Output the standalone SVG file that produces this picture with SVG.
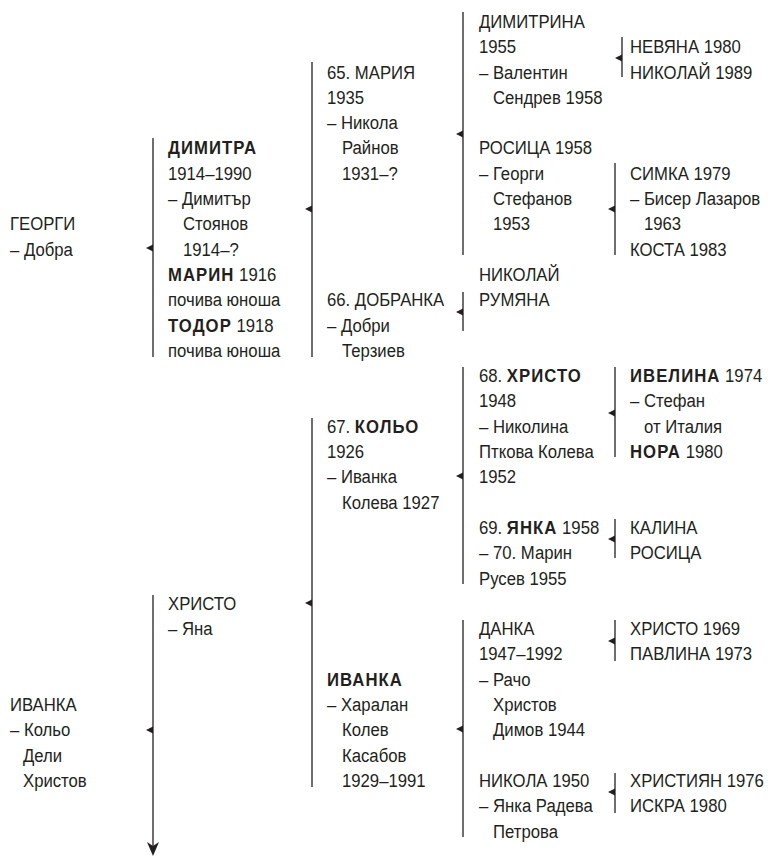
<svg xmlns="http://www.w3.org/2000/svg" xmlns:xlink="http://www.w3.org/1999/xlink" width="768" height="856" viewBox="0 0 768 856">
<style>
text{font-family:"Liberation Sans",Arial,sans-serif;font-size:19px;fill:#231f20;transform-box:fill-box;transform-origin:0 0;transform:scaleX(0.88)}
.b{font-weight:bold;letter-spacing:1.2px}
.ln{stroke:#231f20;stroke-width:1.3;fill:none}
.ah{fill:#231f20}
</style>
<defs>
<path id="ah" class="ah" d="M0,-3.6 L-7,0 L0,3.6Z"/>
</defs>
<rect width="768" height="856" fill="#fff"/>
<g id="connectors">
<line class="ln" x1="153" y1="138" x2="153" y2="357"/><use href="#ah" x="153" y="248"/>
<line class="ln" x1="153" y1="595" x2="153" y2="848"/><use href="#ah" x="153" y="730"/>
<path class="ah" d="M153,856 L147,842 L153,846 L159,842Z"/>
<line class="ln" x1="312" y1="62" x2="312" y2="357"/><use href="#ah" x="312" y="209"/>
<line class="ln" x1="312" y1="418" x2="312" y2="787"/><use href="#ah" x="312" y="603"/>
<line class="ln" x1="463" y1="12" x2="463" y2="255"/><use href="#ah" x="463" y="134"/>
<line class="ln" x1="463" y1="292" x2="463" y2="331"/><use href="#ah" x="463" y="312"/>
<line class="ln" x1="463" y1="367" x2="463" y2="584"/><use href="#ah" x="463" y="476"/>
<line class="ln" x1="463" y1="620" x2="463" y2="837"/><use href="#ah" x="463" y="729"/>
<line class="ln" x1="622" y1="37" x2="622" y2="77"/><use href="#ah" x="622" y="58"/>
<line class="ln" x1="615" y1="163" x2="615" y2="255"/><use href="#ah" x="615" y="209"/>
<line class="ln" x1="615" y1="367" x2="615" y2="457"/><use href="#ah" x="615" y="413"/>
<line class="ln" x1="615" y1="519" x2="615" y2="558"/><use href="#ah" x="615" y="539"/>
<line class="ln" x1="615" y1="620" x2="615" y2="661"/><use href="#ah" x="615" y="641"/>
<line class="ln" x1="615" y1="773" x2="615" y2="813"/><use href="#ah" x="615" y="792"/>
</g>
<g id="georgi"><text x="10" y="230.4">ГЕОРГИ</text><text x="10" y="255.7">– Добра</text></g>
<g id="ivanka0"><text x="10" y="711.1">ИВАНКА</text><text x="10" y="736.4">– Кольо</text><text x="23" y="761.7">Дели</text><text x="23" y="787">Христов</text></g>
<g id="dimitra"><text x="168" y="154.5" class="b">ДИМИТРА</text><text x="168" y="179.8">1914–1990</text><text x="168" y="205.1">– Димитър</text><text x="183" y="230.4">Стоянов</text><text x="183" y="255.7">1914–?</text></g>
<g id="marin"><text x="168" y="281"><tspan class="b">МАРИН</tspan> 1916</text><text x="168" y="306.3">почива юноша</text></g>
<g id="todor"><text x="168" y="331.6"><tspan class="b">ТОДОР</tspan> 1918</text><text x="168" y="356.9">почива юноша</text></g>
<g id="hristo1"><text x="168" y="609.9">ХРИСТО</text><text x="168" y="635.2">– Яна</text></g>
<g id="maria"><text x="327" y="78.6">65. МАРИЯ</text><text x="327" y="103.9">1935</text><text x="327" y="129.2">– Никола</text><text x="342" y="154.5">Райнов</text><text x="342" y="179.8">1931–?</text></g>
<g id="dobranka"><text x="327" y="306.3">66. ДОБРАНКА</text><text x="327" y="331.6">– Добри</text><text x="342" y="356.9">Терзиев</text></g>
<g id="kolyo"><text x="327" y="432.8">67. <tspan class="b">КОЛЬО</tspan></text><text x="327" y="458.1">1926</text><text x="327" y="483.4">– Иванка</text><text x="342" y="508.7">Колева 1927</text></g>
<g id="ivanka2"><text x="327" y="685.8" class="b">ИВАНКА</text><text x="327" y="711.1">– Харалан</text><text x="342" y="736.4">Колев</text><text x="342" y="761.7">Касабов</text><text x="342" y="787">1929–1991</text></g>
<g id="dimitrina"><text x="479" y="28">ДИМИТРИНА</text><text x="479" y="53.3">1955</text><text x="479" y="78.6">– Валентин</text><text x="493" y="103.9">Сендрев 1958</text></g>
<g id="rositsa"><text x="479" y="154.5">РОСИЦА 1958</text><text x="479" y="179.8">– Георги</text><text x="493" y="205.1">Стефанов</text><text x="493" y="230.4">1953</text></g>
<g id="nikolay"><text x="479" y="281">НИКОЛАЙ</text></g>
<g id="rumyana"><text x="479" y="306.3">РУМЯНА</text></g>
<g id="hristo68"><text x="479" y="382.2">68. <tspan class="b">ХРИСТО</tspan></text><text x="479" y="407.5">1948</text><text x="479" y="432.8">– Николина</text><text x="479" y="458.1">Пткова Колева</text><text x="479" y="483.4">1952</text></g>
<g id="yanka"><text x="479" y="534">69. <tspan class="b">ЯНКА</tspan> 1958</text><text x="479" y="559.3">– 70. Марин</text><text x="479" y="584.6">Русев 1955</text></g>
<g id="danka"><text x="479" y="635.2">ДАНКА</text><text x="479" y="660.5">1947–1992</text><text x="479" y="685.8">– Рачо</text><text x="493" y="711.1">Христов</text><text x="493" y="736.4">Димов 1944</text></g>
<g id="nikola"><text x="479" y="787">НИКОЛА 1950</text><text x="479" y="812.3">– Янка Радева</text><text x="493" y="837.6">Петрова</text></g>
<g id="nevyana"><text x="630" y="53.3">НЕВЯНА 1980</text></g>
<g id="nikolay89"><text x="630" y="78.6">НИКОЛАЙ 1989</text></g>
<g id="simka"><text x="630" y="179.8">СИМКА 1979</text><text x="630" y="205.1">– Бисер Лазаров</text><text x="644" y="230.4">1963</text></g>
<g id="kosta"><text x="630" y="255.7">КОСТА 1983</text></g>
<g id="ivelina"><text x="630" y="382.2"><tspan class="b">ИВЕЛИНА</tspan> 1974</text><text x="630" y="407.5">– Стефан</text><text x="644" y="432.8">от Италия</text></g>
<g id="nora"><text x="630" y="458.1"><tspan class="b">НОРА</tspan> 1980</text></g>
<g id="kalina"><text x="630" y="534">КАЛИНА</text></g>
<g id="rositsa2"><text x="630" y="559.3">РОСИЦА</text></g>
<g id="hristo69"><text x="630" y="635.2">ХРИСТО 1969</text></g>
<g id="pavlina"><text x="630" y="660.5">ПАВЛИНА 1973</text></g>
<g id="hristiyan"><text x="630" y="787">ХРИСТИЯН 1976</text></g>
<g id="iskra"><text x="630" y="812.3">ИСКРА 1980</text></g>
</svg>
